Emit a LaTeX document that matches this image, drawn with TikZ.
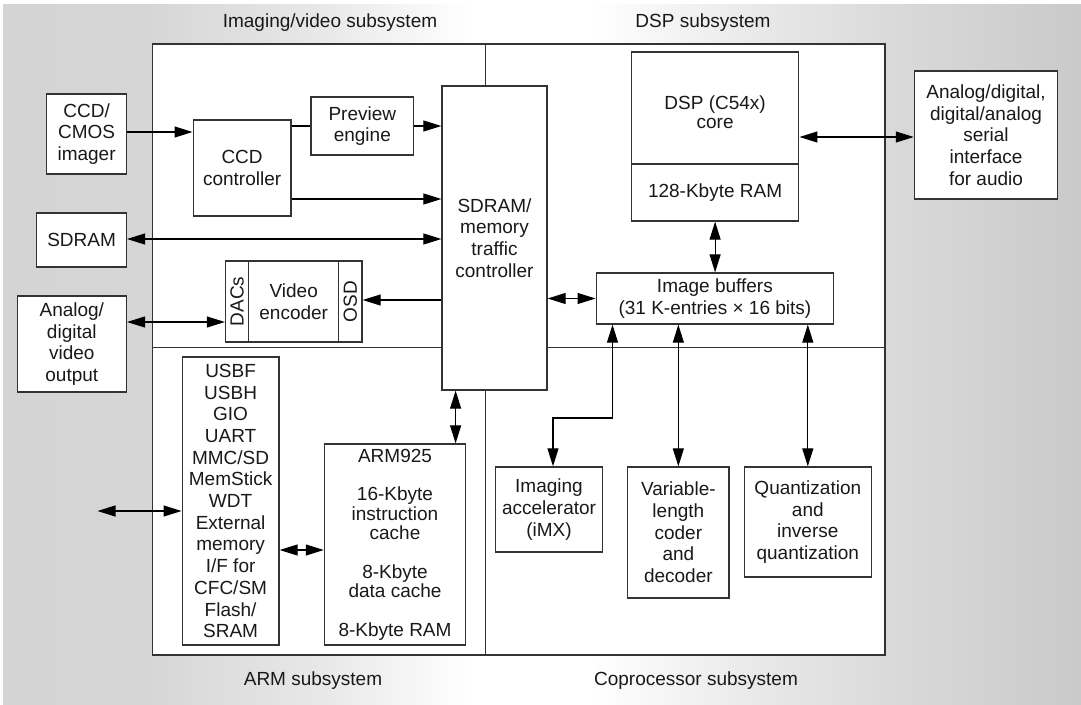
\documentclass[tikz,border=0pt]{standalone}
\usepackage{fontspec}
\setmainfont{Liberation Sans}
\usetikzlibrary{arrows.meta}
% soft grey backdrop, light in the middle
\pgfdeclarehorizontalshading{panelshade}{100bp}{color(0bp)=(black!17); color(25bp)=(black!17); color(31.9bp)=(black!16); color(39.8bp)=(black!9); color(46.7bp)=(white); color(52.3bp)=(white); color(60.2bp)=(black!9); color(66.6bp)=(black!15); color(75bp)=(black!21); color(100bp)=(black!21)}
\begin{document}
\begin{tikzpicture}[x=1pt,y=-1pt,
  every node/.style={font=\fontsize{19}{21.7}\selectfont, text=black!90},
  blk/.style={draw=black!80, line width=1.3pt, fill=white, inner sep=0pt, align=center},
  lbl/.style={inner sep=0pt},
  wire/.style={line width=1.1pt, draw=black},
  one/.style={wire, -{Triangle[length=18pt,width=11pt]}},
  two/.style={wire, {Triangle[length=18pt,width=11pt]}-{Triangle[length=18pt,width=11pt]}}]

\useasboundingbox (0,0) rectangle (1081,704);
\fill[white] (0,0) rectangle (1081,704);
\shade[shading=panelshade] (3,4) rectangle (1081,704);

% chip outline and subsystem partitions
\node[blk, minimum width=732.8pt, minimum height=611pt] (chip) at (518.6,349.5) {};

% subsystem titles
\node[lbl] (tiv) at (330,23) {Imaging/video subsystem};
\node[lbl] (tdsp) at (703,23) {DSP subsystem};
\node[lbl] (tarm) at (313,681) {ARM subsystem};
\node[lbl] (tcop) at (696,681) {Coprocessor subsystem};

% imaging / video
\node[blk, minimum width=79.6pt, minimum height=80pt] (ccd) at (86.6,134) {CCD/\\CMOS\\imager};
\node[blk, minimum width=97.8pt, minimum height=96pt] (ccdc) at (242.1,168) {CCD\\controller};
\node[blk, minimum width=102.6pt, minimum height=58pt] (prev) at (362.3,126) {Preview\\engine};
\node[blk, minimum width=89.6pt, minimum height=54pt] (sdram) at (81.6,240) {SDRAM};
\node[blk, minimum width=109.2pt, minimum height=96pt] (avout) at (71.8,344) {Analog/\\digital\\video\\output};
\node[blk, minimum width=23.1pt, minimum height=81pt] (dacs) at (237.05,301.5) {\rotatebox{90}{DACs}};
\node[blk, minimum width=90.2pt, minimum height=81pt] (venc) at (293.7,301.5) {Video\\encoder};
\node[blk, minimum width=23.2pt, minimum height=81pt] (osd) at (350.4,301.5) {\rotatebox{90}{OSD}};
\node[blk, minimum width=105pt, minimum height=304pt] (ctrl) at (494.5,238) {SDRAM/\\memory\\traffic\\controller};

% partition lines
\draw[line width=1.3pt, black!80] (chip.west |- 0,347.5) -- (ctrl.west |- 0,347.5);
\draw[line width=1.3pt, black!80] (ctrl.east |- 0,347.5) -- (chip.east |- 0,347.5);
\draw[line width=1.3pt, black!80] (chip.north -| 485.5,0) -- (ctrl.north -| 485.5,0);
\draw[line width=1.3pt, black!80] (ctrl.south -| 485.5,0) -- (chip.south -| 485.5,0);

% DSP
\node[blk, minimum width=167.4pt, minimum height=112pt] (dspcore) at (715.1,108) {};
\node[lbl, align=center, font=\fontsize{19}{18.7}\selectfont] (dsptxt) at (715.1,112.5) {DSP (C54x)\\core};
\node[blk, minimum width=167.4pt, minimum height=57pt] (dspram) at (715.1,192.5) {128-Kbyte RAM};
\node[blk, minimum width=143.2pt, minimum height=128pt] (ser) at (986,135) {Analog/digital,\\digital/analog\\serial\\interface\\for audio};
\node[blk, minimum width=237.4pt, minimum height=51pt, font=\fontsize{19}{22.7}\selectfont] (ibuf) at (714.9,298.5) {Image buffers\\(31 K-entries × 16 bits)};

% ARM
\node[blk, minimum width=96.8pt, minimum height=288pt] (usb) at (230.6,501) {USBF\\USBH\\GIO\\UART\\MMC/SD\\MemStick\\WDT\\External\\memory\\I/F for\\CFC/SM\\Flash/\\SRAM};
\node[blk, minimum width=141.2pt, minimum height=201pt, font=\fontsize{19}{19.3}\selectfont] (arm) at (395,544.5) {ARM925\\[19.3pt]16-Kbyte\\instruction\\cache\\[19.3pt]8-Kbyte\\data cache\\[19.3pt]8-Kbyte RAM};
\coordinate (ext) at (97.5,511);

% coprocessors
\node[blk, minimum width=107.6pt, minimum height=85pt] (accel) at (549,509.5) {Imaging\\accelerator\\(iMX)};
\node[blk, minimum width=101.5pt, minimum height=131pt] (vlc) at (678.35,532.5) {Variable-\\length\\coder\\and\\decoder};
\node[blk, minimum width=127pt, minimum height=110pt] (quant) at (807.8,522) {Quantization\\and\\inverse\\quantization};
\coordinate (bendA) at (612.5,418);
\coordinate (bendB) at (553,418);

% connections
\draw[one] (ccd.east |- 0,132) -- (ccdc.west |- 0,132);
\draw[wire] (ccdc.east |- 0,126) -- (prev.west |- 0,126);
\draw[one] (prev.east |- 0,126) -- (ctrl.west |- 0,126);
\draw[one] (ccdc.east |- 0,199) -- (ctrl.west |- 0,199);
\draw[two] (sdram.east |- 0,239) -- (ctrl.west |- 0,239);
\draw[one] (ctrl.west |- 0,300) -- (osd.east |- 0,300);
\draw[two] (avout.east |- 0,322) -- (dacs.west |- 0,322);
\draw[two] (ctrl.east |- ibuf) -- (ibuf.west);
\draw[two] (dspcore.east |- 0,137) -- (ser.west |- 0,137);
\draw[two] (dspram.south) -- (ibuf.north -| dspram.south);
\draw[two] (ctrl.south -| 455.6,0) -- (arm.north -| 455.6,0);
\draw[two] (ext) -- (usb.west |- ext);
\draw[two] (usb.east |- 0,550) -- (arm.west |- 0,550);
\draw[two] (ibuf.south -| bendA) -- (bendA) -- (bendB) -- (accel.north -| bendB);
\draw[two] (ibuf.south -| vlc.north) -- (vlc.north);
\draw[two] (ibuf.south -| quant.north) -- (quant.north);

\end{tikzpicture}
\end{document}
